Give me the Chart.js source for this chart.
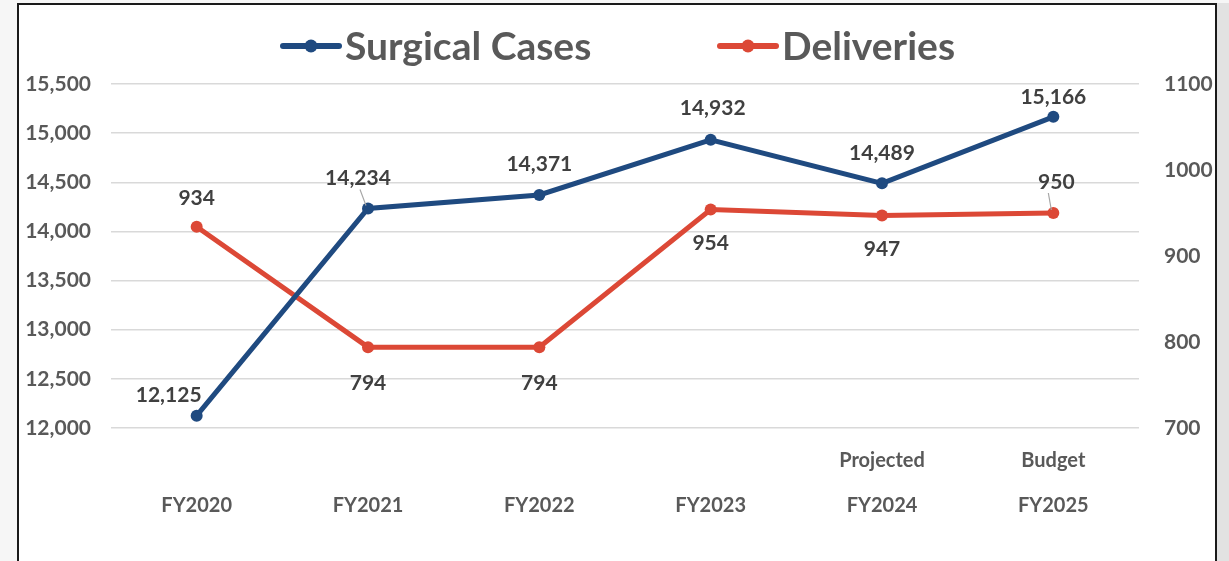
<!doctype html>
<html lang="en">
<head>
	<meta charset="utf-8">
	<title>Surgical Cases and Deliveries</title>
	<style>
		html, body { margin: 0; padding: 0; background: #f6f6f6; overflow: hidden; }
		#frame {
			position: absolute; left: 17px; top: 3px; width: 1196px; height: 570px;
			background: #ffffff; border: 2px solid #1a1a1a;
			box-shadow: 14px 0 0 #e2e2e2;
		}
		#wrap { position: absolute; left: 0; top: 0; width: 1196px; height: 556px; }
	</style>
</head>
<body>
	<div id="frame">
		<div id="wrap"><canvas id="casesChart"></canvas></div>
	</div>
	<script src="https://cdn.jsdelivr.net/npm/chart.js@4.4.1/dist/chart.umd.min.js"></script>
	<script>
		// chart values
		var categoryLabels = [["", "FY2020"], ["", "FY2021"], ["", "FY2022"], ["", "FY2023"], ["Projected", "FY2024"], ["Budget", "FY2025"]];
		var surgicalCases = [12125, 14234, 14371, 14932, 14489, 15166];
		var deliveries = [934, 794, 794, 954, 947, 950];
		var leftTicks = [12000, 12500, 13000, 13500, 14000, 14500, 15000, 15500];
		var rightTicks = [700, 800, 900, 1000, 1100];

		// where each data label sits relative to its point (dx, dy, leader line)
		var surgicalLabelPos = [[-28, -20, false], [-10, -30, true], [0, -31, false], [2, -32, false], [0, -30, false], [0, -20, false]];
		var deliveriesLabelPos = [[0, -29, false], [0, 36, false], [0, 36, false], [0, 34, false], [0, 34, false], [3, -31, true]];

		var blue = '#1f4a80';
		var red = '#dc4836';
		var textGray = '#595959';
		var labelGray = '#404040';
		var fontFamily = 'Lato, "Open Sans", sans-serif';

		function fmt(v) { return v.toLocaleString('en-US'); }

		var dataLabelPlugin = {
			id: 'dataLabels',
			afterDatasetsDraw: function(chart)
			{
				var ctx = chart.ctx;
				ctx.save();
				ctx.font = 'bold 21px ' + fontFamily;
				ctx.textAlign = 'center';
				ctx.textBaseline = 'middle';
				chart.data.datasets.forEach(function(ds, di)
				{
					var meta = chart.getDatasetMeta(di);
					var pos = ds.labelPos;
					meta.data.forEach(function(pt, i)
					{
						var p = pos[i];
						var lx = pt.x + p[0];
						var ly = pt.y + p[1];
						if (p[2])
						{
							ctx.strokeStyle = '#a6a6a6';
							ctx.lineWidth = 1.2;
							ctx.beginPath();
							ctx.moveTo(lx + (p[0] < 0 ? 2 : -8), ly + 11);
							ctx.lineTo(pt.x - 2, pt.y - 3);
							ctx.stroke();
						}
						ctx.fillStyle = labelGray;
						ctx.fillText(fmt(ds.data[i]), lx, ly);
					});
				});
				ctx.restore();
			}
		};

		var legendPlugin = {
			id: 'lineLegend',
			afterDraw: function(chart)
			{
				var ctx = chart.ctx;
				var starts = [264, 701];
				var y = 41;
				ctx.save();
				ctx.font = 'bold 39px ' + fontFamily;
				ctx.textBaseline = 'middle';
				ctx.textAlign = 'left';
				chart.data.datasets.forEach(function(ds, di)
				{
					var x = starts[di];
					ctx.strokeStyle = ds.borderColor;
					ctx.lineWidth = 6;
					ctx.lineCap = 'round';
					ctx.beginPath();
					ctx.moveTo(x, y);
					ctx.lineTo(x + 56, y);
					ctx.stroke();
					ctx.fillStyle = ds.borderColor;
					ctx.beginPath();
					ctx.arc(x + 28, y, 6.5, 0, Math.PI * 2);
					ctx.fill();
					ctx.fillStyle = textGray;
					ctx.fillText(ds.label, x + 62, y + 1);
				});
				ctx.restore();
			}
		};

		var casesChart = new Chart(
			"casesChart",
			{
				type: 'line',
				data: {
					labels: categoryLabels,
					datasets: [
						{
							label: "Surgical Cases",
							data: surgicalCases,
							yAxisID: 'yLeft',
							borderColor: blue,
							backgroundColor: blue,
							borderWidth: 5,
							pointRadius: 6,
							pointBackgroundColor: blue,
							pointBorderWidth: 0,
							tension: 0,
							labelPos: surgicalLabelPos
						},
						{
							label: "Deliveries",
							data: deliveries,
							yAxisID: 'yRight',
							borderColor: red,
							backgroundColor: red,
							borderWidth: 5,
							pointRadius: 6,
							pointBackgroundColor: red,
							pointBorderWidth: 0,
							tension: 0,
							labelPos: deliveriesLabelPos
						}]
				},
				options: {
					responsive: true,
					maintainAspectRatio: false,
					animation: false,
					layout: { padding: { top: 79, left: 0, right: 0, bottom: 0 } },
					plugins: {
						legend: { display: false },
						tooltip: { enabled: false }
					},
					scales: {
						x: {
							offset: true,
							grid: { display: false, drawTicks: false },
							border: { display: false },
							ticks: {
								color: textGray,
								padding: 10,
								maxRotation: 0,
								font: { family: fontFamily, size: 20, weight: 'bold', lineHeight: 2.25 }
							},
							afterFit: function(scale) { scale.height = 133; }
						},
						yLeft: {
							position: 'left',
							min: 12000,
							max: 15500,
							afterBuildTicks: function(scale) { scale.ticks = leftTicks.map(function(v) { return { value: v }; }); },
							grid: { color: '#d9d9d9', lineWidth: 1.5, drawTicks: false },
							border: { display: false },
							ticks: {
								color: textGray,
								padding: 20,
								font: { family: fontFamily, size: 21, weight: 'bold' },
								callback: function(v) { return fmt(v); }
							},
							afterFit: function(scale) { scale.width = 92; }
						},
						yRight: {
							position: 'right',
							min: 700,
							max: 1100,
							afterBuildTicks: function(scale) { scale.ticks = rightTicks.map(function(v) { return { value: v }; }); },
							grid: { display: false, drawTicks: false },
							border: { display: false },
							ticks: {
								color: textGray,
								padding: 25,
								font: { family: fontFamily, size: 21, weight: 'bold' },
								callback: function(v) { return String(v); }
							},
							afterFit: function(scale) { scale.width = 76; }
						}
					}
				},
				plugins: [dataLabelPlugin, legendPlugin]
			});
	</script>
</body>
</html>
